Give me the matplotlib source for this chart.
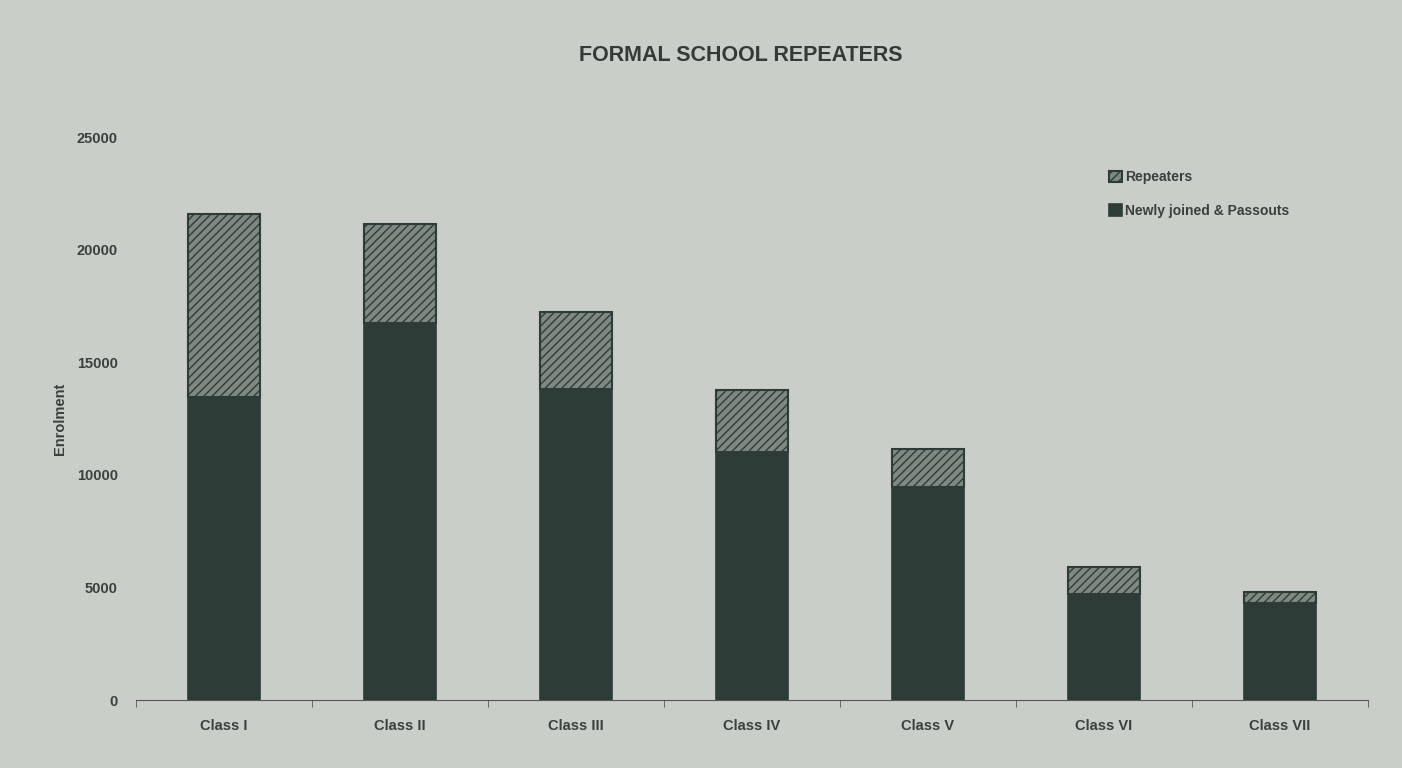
import numpy as np
import matplotlib
matplotlib.use("Agg")
import matplotlib.pyplot as plt

classes = ["Class I", "Class II", "Class III", "Class IV", "Class V", "Class VI", "Class VII"]
newly_joined = [13450, 16740, 13810, 11010, 9460, 4710, 4310]
repeaters = [8130, 4400, 3420, 2750, 1690, 1200, 490]
yticks = [0, 5000, 10000, 15000, 20000, 25000]

bg = "#c9cec9"
dark = "#2e3c37"
text_col = "#3a403d"

plt.rcParams["font.family"] = ["Liberation Sans", "DejaVu Sans"]
plt.rcParams["hatch.color"] = "#3e4944"
plt.rcParams["hatch.linewidth"] = 1.0

fig = plt.figure(figsize=(14.02, 7.68), dpi=100, facecolor=bg)
ax = fig.add_axes([0.097, 0.0885, 0.8787, 0.733], facecolor=bg)

x = np.arange(len(classes))
ax.bar(x, newly_joined, width=0.41, color=dark, edgecolor=dark, linewidth=1.2,
       label="Newly joined & Passouts")
ax.bar(x, repeaters, width=0.41, bottom=newly_joined, color="#7f8984",
       edgecolor=dark, linewidth=1.5, hatch="////", label="Repeaters")

ax.set_xlim(-0.5, len(classes) - 0.5)
ax.set_ylim(0, 25000)
ax.set_yticks(yticks)
ax.set_xticks(x)
ax.set_xticklabels(classes)
ax.set_xticks(np.arange(len(classes) + 1) - 0.5, minor=True)
ax.tick_params(axis="x", which="major", length=0, pad=14, labelsize=10.5, colors=text_col)
ax.tick_params(axis="x", which="minor", length=5, direction="out", color="#555")
ax.tick_params(axis="y", length=0, pad=13, labelsize=10.5, colors=text_col)
for lab in ax.get_xticklabels() + ax.get_yticklabels():
    lab.set_fontweight("bold")

for s in ["top", "right", "left"]:
    ax.spines[s].set_visible(False)
ax.spines["bottom"].set_color("#555")

ax.set_ylabel("Enrolment", fontsize=10.5, fontweight="bold", color=text_col, labelpad=7)
fig.text(0.528, 0.928, "FORMAL SCHOOL REPEATERS", ha="center", va="center",
         fontsize=15.5, fontweight="bold", color="#333a37")

handles, labels = ax.get_legend_handles_labels()
leg = ax.legend(handles[::-1], labels[::-1], loc="upper left", bbox_to_anchor=(0.78, 0.963),
                frameon=False, fontsize=10, handlelength=0.9, handleheight=0.9,
                handletextpad=0.2, labelspacing=1.4)
for t in leg.get_texts():
    t.set_fontweight("bold")
    t.set_color(text_col)

fig.savefig("out.png", dpi=100, facecolor=bg)
